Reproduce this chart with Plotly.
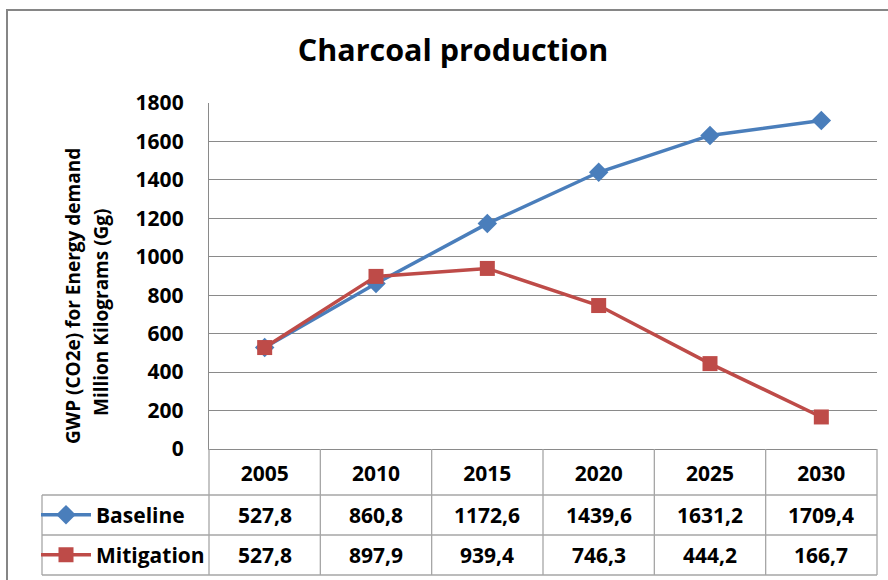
import plotly.graph_objects as go

# ---- data ----
years = ["2005", "2010", "2015", "2020", "2025", "2030"]
baseline = [527.8, 860.8, 1172.6, 1439.6, 1631.2, 1709.4]
mitigation = [527.8, 897.9, 939.4, 746.3, 444.2, 166.7]
series_names = ["Baseline", "Mitigation"]
y_ticks = [0, 200, 400, 600, 800, 1000, 1200, 1400, 1600, 1800]
title_text = "Charcoal production"
ytitle_lines = ["GWP (CO2e) for Energy demand", "Million Kilograms (Gg)"]

# ---- layout constants (pixels) ----
W, H = 888, 580
PX_L, PX_R, PX_T, PX_B = 209, 877, 103, 449
ROWS_PX = [449, 495, 535, 575]
TABLE_LEFT_PX = 42
FONT = "Open Sans"
BLUE = "#4A7EBB"
RED = "#BE4B48"
GRID = "#8a8a8a"
TLINE = "#a6a6a6"
FS = 21

def px_x(p):
    return p / W

def px_y(p):
    return 1 - p / H

xd = [px_x(PX_L), px_x(PX_R)]
yd = [px_y(PX_B), px_y(PX_T)]

def bold(size):
    return dict(family=FONT, size=size, color="black", weight="bold")

fig = go.Figure()
fig.add_trace(go.Scatter(
    x=years, y=baseline, name=series_names[0], mode="lines+markers",
    line=dict(color=BLUE, width=3.5), marker=dict(symbol="diamond", size=15, color=BLUE),
    legend="legend", showlegend=True))
fig.add_trace(go.Scatter(
    x=years, y=mitigation, name=series_names[1], mode="lines+markers",
    line=dict(color=RED, width=3.5), marker=dict(symbol="square", size=15, color=RED),
    legend="legend2", showlegend=True))

shapes = []
# outer chart border
shapes.append(dict(type="rect", xref="paper", yref="paper",
                   x0=px_x(7), x1=1.05, y0=-0.05, y1=px_y(10),
                   line=dict(color="#868686", width=2), fillcolor="rgba(0,0,0,0)"))

n = len(years)
col_w = (xd[1] - xd[0]) / n
# vertical column dividers in table (header through bottom)
for i in range(n + 1):
    xx = xd[0] + i * col_w
    shapes.append(dict(type="line", xref="paper", yref="paper",
                       x0=xx, x1=xx, y0=px_y(ROWS_PX[-1]), y1=px_y(ROWS_PX[0]),
                       line=dict(color=TLINE, width=1.3)))
# horizontal row lines
for r in ROWS_PX[1:]:
    shapes.append(dict(type="line", xref="paper", yref="paper",
                       x0=px_x(TABLE_LEFT_PX), x1=xd[1], y0=px_y(r), y1=px_y(r),
                       line=dict(color=TLINE, width=1.3)))
# left edge of legend column
shapes.append(dict(type="line", xref="paper", yref="paper",
                   x0=px_x(TABLE_LEFT_PX), x1=px_x(TABLE_LEFT_PX),
                   y0=px_y(ROWS_PX[-1]), y1=px_y(ROWS_PX[1]),
                   line=dict(color=TLINE, width=1.3)))

annotations = []
# table values (category index positions on the x axis)
for row_i, vals in enumerate([baseline, mitigation]):
    yc = px_y((ROWS_PX[row_i + 1] + ROWS_PX[row_i + 2]) / 2)
    for ci, v in enumerate(vals):
        annotations.append(dict(x=ci, y=yc, xref="x", yref="paper",
                                text=f"{v:.1f}".replace(".", ","), showarrow=False,
                                font=bold(FS), xanchor="center", yanchor="middle"))
# y-axis title, two lines
for (lx, ly), txt in zip([(73, 296), (101, 312)], ytitle_lines):
    annotations.append(dict(x=px_x(lx), y=px_y(ly), xref="paper", yref="paper",
                            text=txt, textangle=-90, showarrow=False,
                            font=bold(19), xanchor="center", yanchor="middle"))

leg_common = dict(xanchor="left", yanchor="middle", bgcolor="rgba(0,0,0,0)",
                  borderwidth=0, itemwidth=50, font=bold(FS))

fig.update_layout(
    width=W, height=H,
    margin=dict(l=0, r=0, t=0, b=0, autoexpand=False),
    paper_bgcolor="white", plot_bgcolor="white",
    font=dict(family=FONT, color="black"),
    showlegend=True,
    title=dict(text=title_text, x=px_x(453), y=px_y(50),
               xanchor="center", yanchor="middle", font=bold(30.5)),
    xaxis=dict(domain=xd, type="category", categoryorder="array", categoryarray=years,
               range=[-0.5, n - 0.5], showgrid=False, zeroline=False,
               showline=True, linecolor=GRID, linewidth=1.3, ticks="",
               tickfont=bold(FS), ticklabelstandoff=6),
    yaxis=dict(domain=yd, range=[0, 1800], tickvals=y_ticks, showgrid=True,
               gridcolor=GRID, gridwidth=1.3, zeroline=False,
               showline=True, linecolor=GRID, linewidth=1.3, ticks="",
               tickfont=bold(FS), ticklabelstandoff=20),
    legend=dict(x=px_x(36), y=px_y((ROWS_PX[1] + ROWS_PX[2]) / 2), **leg_common),
    legend2=dict(x=px_x(36), y=px_y((ROWS_PX[2] + ROWS_PX[3]) / 2), **leg_common),
    shapes=shapes,
    annotations=annotations,
)

fig.write_html("out.html", config={"displayModeBar": False},
               post_script="document.body.style.margin='0';")
